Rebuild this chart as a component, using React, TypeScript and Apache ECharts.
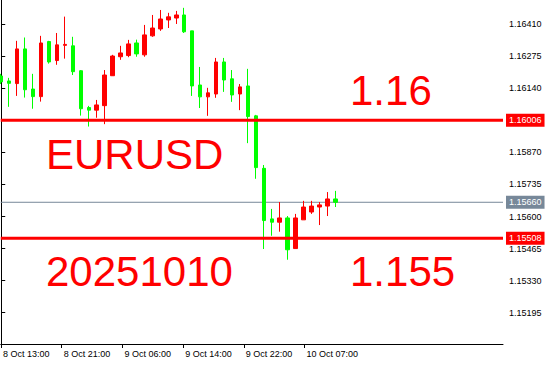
import React, { useEffect, useRef } from "react";
import * as echarts from "echarts";

// EURUSD H1 candles, oldest first
const opens = [
  1.16192, 1.16171, 1.1616, 1.16306, 1.16137, 1.16105, 1.16337, 1.16257, 1.16321, 1.16319,
  1.16214, 1.16059, 1.16048, 1.16067, 1.16193, 1.16273, 1.16278, 1.16331, 1.16281, 1.16361,
  1.1639, 1.16428, 1.16436, 1.16449, 1.16382, 1.16154, 1.16104, 1.16116, 1.16251, 1.1618,
  1.16116, 1.1615, 1.16024, 1.15803, 1.1559, 1.15576, 1.15594, 1.15465, 1.15586, 1.15619,
  1.1564, 1.15644, 1.15674,
];
const closes = [
  1.16167, 1.16161, 1.16306, 1.16134, 1.16105, 1.16331, 1.16251, 1.16323, 1.16325, 1.1621,
  1.16054, 1.16048, 1.1607, 1.16196, 1.16276, 1.16289, 1.16327, 1.16285, 1.16365, 1.16394,
  1.16432, 1.16441, 1.16449, 1.16378, 1.1615, 1.16104, 1.16121, 1.16251, 1.16175, 1.16112,
  1.16146, 1.16021, 1.15806, 1.15583, 1.15576, 1.15594, 1.1546, 1.15594, 1.1564, 1.15644,
  1.15649, 1.15674, 1.1566,
];
const lows = [
  1.16158, 1.16062, 1.16108, 1.16101, 1.16054, 1.16084, 1.16244, 1.16239, 1.16265, 1.16196,
  1.16025, 1.15979, 1.16016, 1.15989, 1.16192, 1.1626, 1.16271, 1.16273, 1.16273, 1.16357,
  1.16382, 1.16394, 1.16411, 1.16373, 1.16108, 1.16057, 1.16024, 1.161, 1.16125, 1.16083,
  1.16048, 1.15909, 1.15759, 1.15463, 1.15519, 1.15536, 1.15418, 1.15465, 1.15586, 1.15611,
  1.15564, 1.15602, 1.1564,
];
const highs = [
  1.16201, 1.16184, 1.1634, 1.16354, 1.16201, 1.16361, 1.1634, 1.16373, 1.16442, 1.16357,
  1.16217, 1.16066, 1.16091, 1.16217, 1.16281, 1.16319, 1.16344, 1.16345, 1.16407, 1.16449,
  1.1647, 1.16458, 1.16466, 1.16479, 1.16382, 1.1623, 1.16142, 1.16268, 1.16268, 1.16217,
  1.16158, 1.16222, 1.16028, 1.15817, 1.15632, 1.15661, 1.15602, 1.15611, 1.15666, 1.15666,
  1.15661, 1.15703, 1.15708,
];

const timeLabels = ["8 Oct 13:00", "8 Oct 21:00", "9 Oct 06:00", "9 Oct 14:00", "9 Oct 22:00", "10 Oct 07:00"];
const priceTicks = [1.15195, 1.1533, 1.15465, 1.156, 1.15735, 1.1587, 1.16005, 1.1614, 1.16275, 1.1641];

const resistanceLevel = 1.16006;
const supportLevel = 1.15508;
const bidPrice = 1.1566;

const titleText = "EURUSD";
const dateText = "20251010";
const upperLevelText = "1.16";
const lowerLevelText = "1.155";

const PRICE_MIN = 1.15063;
const PRICE_MAX = 1.16512;
const BAR_MIN = -0.0625;
const BAR_MAX = 63.0625;

// time labels sit every ~7.63 bars, the first one just before the left edge
const TIME_FIRST = -0.03;
const TIME_STEP = 7.63;

const UP = "#ff0000";
const DOWN = "#00ff00";
const BID = "#778899";
const AXIS_FONT = "Liberation Sans";
const BIG_FONT = '42px "Liberation Sans"';

// a full-width horizontal price line with its value boxed on the price scale
function levelSeries(name: string, level: number, color: string, width: number, z: number) {
  return {
    name,
    type: "line",
    z,
    silent: true,
    showSymbol: false,
    symbol: "none",
    data: [
      [BAR_MIN, level],
      [BAR_MAX, level],
    ],
    lineStyle: { color, width, type: "solid" },
    endLabel: {
      show: true,
      distance: 3,
      formatter: (p: any) => Number(p.value[1]).toFixed(5),
      color: "#ffffff",
      backgroundColor: color,
      fontFamily: AXIS_FONT,
      fontSize: 9,
      lineHeight: 10,
      padding: [2, 3, 1, 3],
    },
  };
}

export default function App() {
  const ref = useRef<HTMLDivElement>(null);

  useEffect(() => {
    const chart = echarts.init(ref.current!, null, { renderer: "svg" });
    const candleData = opens.map((o, i) => [i, o, closes[i], lows[i], highs[i]]);
    const timeTicks = timeLabels.map((_, i) => TIME_FIRST + TIME_STEP * i);

    chart.setOption({
      animation: false,
      backgroundColor: "#ffffff",
      grid: { left: -2, right: 45, top: 0, bottom: 21, containLabel: false },
      xAxis: {
        type: "value",
        min: BAR_MIN,
        max: BAR_MAX,
        axisLine: { show: true, lineStyle: { color: "#000000", width: 1 } },
        axisTick: { show: true, length: 4, lineStyle: { color: "#000000" }, customValues: timeTicks },
        axisLabel: {
          show: true,
          customValues: timeTicks,
          formatter: (v: number) => timeLabels[Math.round((v - TIME_FIRST) / TIME_STEP)] ?? "",
          align: "left",
          padding: [0, 0, 0, 2],
          margin: 5,
          color: "#000000",
          fontFamily: AXIS_FONT,
          fontSize: 9,
        },
        splitLine: { show: false },
      },
      yAxis: {
        type: "value",
        position: "right",
        min: PRICE_MIN,
        max: PRICE_MAX,
        axisLine: { show: true, lineStyle: { color: "#000000", width: 1 } },
        axisTick: { show: true, length: 4, lineStyle: { color: "#000000" }, customValues: priceTicks },
        axisLabel: {
          show: true,
          customValues: priceTicks,
          formatter: (v: number) => v.toFixed(5),
          margin: 6,
          color: "#000000",
          fontFamily: AXIS_FONT,
          fontSize: 9,
        },
        splitLine: { show: false },
      },
      series: [
        levelSeries("bid", bidPrice, BID, 1, 1),
        {
          name: "EURUSD,H1",
          type: "candlestick",
          z: 2,
          data: candleData,
          barWidth: 4,
          itemStyle: {
            color: UP,
            color0: DOWN,
            borderColor: UP,
            borderColor0: DOWN,
            borderWidth: 1,
          },
        },
        levelSeries("resistance", resistanceLevel, UP, 3, 3),
        levelSeries("support", supportLevel, UP, 3, 3),
      ],
      graphic: [
        { type: "text", x: 46, y: 154, style: { text: titleText, fill: UP, font: BIG_FONT, verticalAlign: "middle" } },
        { type: "text", x: 46, y: 271, style: { text: dateText, fill: UP, font: BIG_FONT, verticalAlign: "middle" } },
        { type: "text", x: 350, y: 90, style: { text: upperLevelText, fill: UP, font: BIG_FONT, verticalAlign: "middle" } },
        { type: "text", x: 350, y: 271, style: { text: lowerLevelText, fill: UP, font: BIG_FONT, verticalAlign: "middle" } },
      ],
    });

    return () => chart.dispose();
  }, []);

  return (
    <div
      ref={ref}
      style={{ position: "fixed", left: 0, top: 0, width: 548, height: 365, background: "#ffffff" }}
    />
  );
}
